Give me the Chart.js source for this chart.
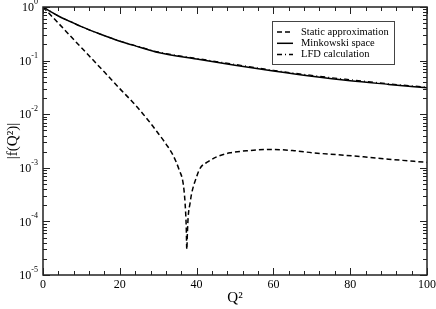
<!DOCTYPE html>
<html>
<head>
<meta charset="utf-8">
<script src="https://cdn.jsdelivr.net/npm/chart.js@4/dist/chart.umd.min.js"></script>
<style>
  html, body { margin: 0; padding: 0; background: #fff; }
  #wrap { width: 436px; height: 309px; }
</style>
</head>
<body>
<div id="wrap"><canvas id="c" width="436" height="309"></canvas></div>
<script>
// Q^2 grid for the two full calculations
const q2 = [0, 2, 4, 6, 8, 10, 15, 20, 25, 30, 40, 50, 60, 70, 80, 90, 100];
const minkowski = [1, 0.82, 0.68, 0.58, 0.50, 0.43, 0.31, 0.23, 0.18, 0.142, 0.107, 0.082, 0.064, 0.051, 0.042, 0.036, 0.031];
const lfd = [1, 0.82, 0.68, 0.58, 0.50, 0.43, 0.31, 0.232, 0.182, 0.145, 0.110, 0.085, 0.066, 0.053, 0.044, 0.037, 0.032];

// static approximation (has a zero near Q^2 = 37.5)
const q2Static = [0, 4, 8, 12, 16, 20, 24, 26.1, 28, 29.6, 32, 33.9, 35.5, 36.5, 37.0, 37.3, 37.45, 37.6, 37.8, 38.3, 38.7, 40, 40.9, 43, 45.2, 48.7, 53.9, 59.1, 65, 70.4, 77, 83.5, 90, 100];
const staticApprox = [1, 0.50, 0.247, 0.123, 0.061, 0.030, 0.015, 0.0100, 0.0068, 0.0048, 0.0028, 0.0017, 0.0009, 0.00051, 0.00022, 0.00008, 0.00003, 0.00006, 0.00012, 0.00022, 0.00033, 0.00068, 0.00098, 0.0013, 0.0016, 0.0019, 0.0021, 0.0022, 0.0021, 0.0019, 0.00175, 0.0016, 0.00145, 0.00126];

const xTicks = [0, 20, 40, 60, 80, 100];
const yExp = [0, -1, -2, -3, -4, -5];
const legendLabels = ['Static approximation', 'Minkowski space', 'LFD calculation'];

const SERIF = '"Liberation Serif", "DejaVu Serif", serif';

function pairs(xs, ys) {
    return xs.map((x, i) => ({x: x, y: ys[i]}));
}

const frame = {
    id: 'frame',
    afterDraw(chart) {
        const ctx = chart.ctx;
        const a = chart.chartArea;
        const xs = chart.scales.x;
        const ys = chart.scales.y;
        ctx.save();

        // frame
        ctx.strokeStyle = '#222';
        ctx.lineWidth = 1.5;
        ctx.strokeRect(a.left, a.top, a.right - a.left, a.bottom - a.top);

        // x ticks (inward, bottom and top)
        ctx.lineWidth = 1;
        ctx.beginPath();
        for (let v = 0; v <= 100; v += 4) {
            const px = Math.round(xs.getPixelForValue(v)) + 0.5;
            const len = v % 20 === 0 ? 7 : 4;
            ctx.moveTo(px, a.bottom); ctx.lineTo(px, a.bottom - len);
            ctx.moveTo(px, a.top); ctx.lineTo(px, a.top + len);
        }
        // y ticks (inward, left and right)
        for (let e = -5; e <= 0; e++) {
            for (let m = 1; m <= 9; m++) {
                if (e === 0 && m > 1) break;
                const v = m * Math.pow(10, e);
                const py = Math.round(ys.getPixelForValue(v)) + 0.5;
                const len = m === 1 ? 7 : 4;
                ctx.moveTo(a.left, py); ctx.lineTo(a.left + len, py);
                ctx.moveTo(a.right, py); ctx.lineTo(a.right - len, py);
            }
        }
        ctx.stroke();

        // x tick labels
        ctx.fillStyle = '#000';
        ctx.font = '12px ' + SERIF;
        ctx.textAlign = 'center';
        ctx.textBaseline = 'top';
        xTicks.forEach(v => {
            ctx.fillText(String(v), xs.getPixelForValue(v), a.bottom + 4);
        });

        // y tick labels 10^n
        yExp.forEach(e => {
            const py = ys.getPixelForValue(Math.pow(10, e));
            const ex = String(e);
            ctx.font = '8px ' + SERIF;
            const ew = ctx.measureText(ex).width;
            ctx.textAlign = 'left';
            ctx.textBaseline = 'middle';
            const right = a.left - 5;
            ctx.fillText(ex, right - ew, py - 5);
            ctx.font = '12px ' + SERIF;
            ctx.textAlign = 'right';
            ctx.fillText('10', right - ew, py + 1);
        });

        // axis titles
        ctx.font = '15px ' + SERIF;
        ctx.textAlign = 'center';
        ctx.textBaseline = 'middle';
        ctx.fillText('Q\u00B2', (a.left + a.right) / 2, 298);
        ctx.save();
        ctx.translate(13, (a.top + a.bottom) / 2);
        ctx.rotate(-Math.PI / 2);
        ctx.fillText('|f(Q\u00B2)|', 0, 0);
        ctx.restore();

        // legend box
        const bx = 272, by = 21, bw = 122, bh = 43;
        ctx.fillStyle = '#fff';
        ctx.fillRect(bx, by, bw, bh);
        ctx.strokeStyle = '#444';
        ctx.lineWidth = 1;
        ctx.strokeRect(bx + 0.5, by + 0.5, bw, bh);
        const dashes = [[5, 3], [], [5, 3, 1, 3]];
        ctx.font = '10.5px ' + SERIF;
        ctx.textAlign = 'left';
        ctx.textBaseline = 'middle';
        legendLabels.forEach((t, i) => {
            const ry = by + 11 + i * 11.3;
            ctx.strokeStyle = '#000';
            ctx.lineWidth = 1.5;
            ctx.setLineDash(dashes[i]);
            ctx.beginPath();
            ctx.moveTo(bx + 5, ry); ctx.lineTo(bx + 21, ry);
            ctx.stroke();
            ctx.setLineDash([]);
            ctx.fillStyle = '#000';
            ctx.fillText(t, bx + 29, ry);
        });
        ctx.restore();
    }
};

const ctx = document.getElementById('c').getContext('2d');
new Chart(ctx, {
    type: 'line',
    data: {
        datasets: [
            {label: legendLabels[0], data: pairs(q2Static, staticApprox), borderColor: '#000', borderWidth: 1.5, borderDash: [5, 3], pointRadius: 0, cubicInterpolationMode: 'monotone', fill: false},
            {label: legendLabels[1], data: pairs(q2, minkowski), borderColor: '#000', borderWidth: 1.5, pointRadius: 0, cubicInterpolationMode: 'monotone', fill: false},
            {label: legendLabels[2], data: pairs(q2, lfd), borderColor: '#000', borderWidth: 1.2, borderDash: [5, 3, 1, 3], pointRadius: 0, cubicInterpolationMode: 'monotone', fill: false}
        ]
    },
    options: {
        responsive: false,
        animation: false,
        layout: {padding: {left: 43, right: 9, top: 7, bottom: 34}},
        plugins: {legend: {display: false}, tooltip: {enabled: false}},
        scales: {
            x: {type: 'linear', min: 0, max: 100, display: false},
            y: {type: 'logarithmic', min: 1e-5, max: 1, display: false}
        }
    },
    plugins: [frame]
});
</script>
</body>
</html>
